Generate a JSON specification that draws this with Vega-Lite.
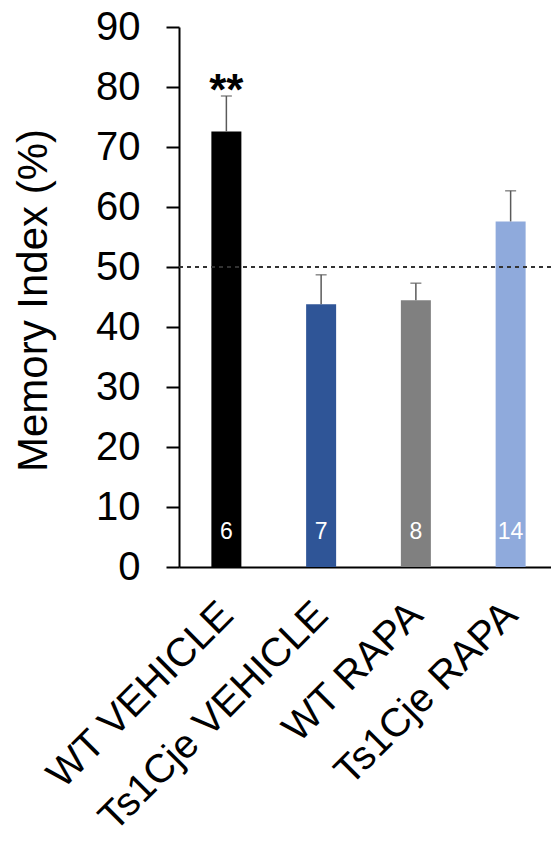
{
  "$schema": "https://vega.github.io/schema/vega-lite/v6.json",
  "autosize": "none",
  "padding": {"left": 179, "top": 27, "right": 0, "bottom": 286},
  "width": 372,
  "height": 540,
  "background": "white",
  "config": {
    "view": {"stroke": null},
    "font": "Liberation Sans"
  },
  "data": {
    "values": [
      {"group": "WT VEHICLE", "mean": 72.6, "upper": 78.5, "n": "6", "sig": "**"},
      {"group": "Ts1Cje VEHICLE", "mean": 43.8, "upper": 48.7, "n": "7", "sig": ""},
      {"group": "WT RAPA", "mean": 44.45, "upper": 47.3, "n": "8", "sig": ""},
      {"group": "Ts1Cje RAPA", "mean": 57.6, "upper": 62.7, "n": "14", "sig": ""}
    ]
  },
  "encoding": {
    "x": {
      "field": "group",
      "type": "nominal",
      "sort": null,
      "scale": {"range": [0, 379], "paddingInner": 0, "paddingOuter": 0},
      "axis": {
        "title": null,
        "ticks": false,
        "domainColor": "#000000",
        "domainWidth": 2,
        "labelAngle": -45,
        "labelAlign": "right",
        "labelBaseline": "alphabetic",
        "labelFont": "Liberation Sans",
        "labelFontSize": 40,
        "labelColor": "#000000",
        "labelPadding": 50,
        "labelOffset": 9,
        "labelLimit": 0,
        "labelOverlap": false
      }
    }
  },
  "layer": [
    {
      "mark": {"type": "bar", "width": 30},
      "encoding": {
        "y": {
          "field": "mean",
          "type": "quantitative",
          "scale": {"domain": [0, 90], "nice": false},
          "axis": {
            "values": [0, 10, 20, 30, 40, 50, 60, 70, 80, 90],
            "grid": false,
            "domainColor": "#000000",
            "domainWidth": 2,
            "tickColor": "#000000",
            "tickWidth": 2,
            "tickSize": 13,
            "labelFont": "Liberation Sans",
            "labelFontSize": 40,
            "labelColor": "#000000",
            "labelPadding": 26,
            "title": "Memory Index (%)",
            "titleFont": "Liberation Sans",
            "titleFontSize": 42,
            "titleFontWeight": "normal",
            "titleColor": "#000000",
            "titleAngle": -90,
            "titleBaseline": "alphabetic",
            "titleAlign": "center",
            "titleX": -133,
            "titleY": 273
          }
        },
        "color": {
          "field": "group",
          "type": "nominal",
          "sort": null,
          "scale": {"range": ["#000000", "#2F5597", "#808080", "#8FAADC"]},
          "legend": null
        }
      }
    },
    {
      "mark": {"type": "rule", "color": "#5a5a5a", "strokeWidth": 1.5},
      "encoding": {
        "y": {"field": "mean", "type": "quantitative"},
        "y2": {"field": "upper"}
      }
    },
    {
      "mark": {"type": "tick", "color": "#5a5a5a", "orient": "horizontal", "size": 11, "thickness": 1.5},
      "encoding": {
        "y": {"field": "upper", "type": "quantitative"}
      }
    },
    {
      "mark": {"type": "rule", "color": "#333333", "strokeWidth": 1.3, "strokeDash": [4, 4]},
      "encoding": {
        "y": {"datum": 50},
        "x": {"value": 0},
        "x2": {"value": 379}
      }
    },
    {
      "mark": {"type": "text", "color": "#ffffff", "fontSize": 23, "baseline": "alphabetic", "align": "center", "font": "Liberation Sans"},
      "encoding": {
        "y": {"datum": 4.6},
        "text": {"field": "n"}
      }
    },
    {
      "mark": {"type": "text", "color": "#000000", "fontSize": 44, "fontWeight": "bold", "baseline": "alphabetic", "align": "center", "font": "Liberation Sans"},
      "encoding": {
        "y": {"datum": 77.07},
        "text": {"field": "sig"}
      }
    }
  ]
}
